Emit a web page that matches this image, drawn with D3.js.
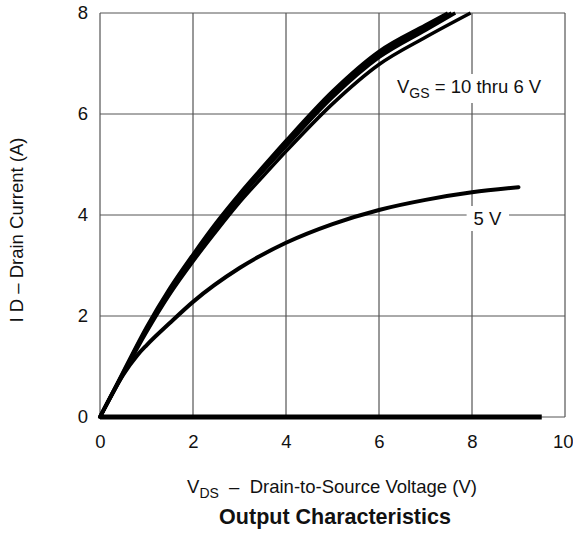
<!DOCTYPE html>
<html>
<head>
<meta charset="utf-8">
<script src="https://cdn.jsdelivr.net/npm/d3@7"></script>
<style>
  body { margin: 0; background: #fff; }
  text { font-family: "Liberation Sans", Arial, Helvetica, sans-serif; fill: #111; }
</style>
</head>
<body>
<script>
// drain current (A) vs drain-to-source voltage (V), one array per gate voltage
var vds10 = [0, 0.5, 1, 1.5, 2, 2.5, 3, 3.5, 4, 5, 6, 7, 7.48];
var id10  = [0, 0.9, 1.78, 2.55, 3.22, 3.85, 4.42, 4.95, 5.47, 6.45, 7.24, 7.76, 8.0];
var vds8  = [0, 0.5, 1, 1.5, 2, 2.5, 3, 3.5, 4, 5, 6, 7, 7.56];
var id8   = [0, 0.88, 1.75, 2.51, 3.18, 3.8, 4.37, 4.9, 5.41, 6.39, 7.18, 7.71, 8.0];
var vds7  = [0, 0.5, 1, 1.5, 2, 2.5, 3, 3.5, 4, 5, 6, 7, 7.64];
var id7   = [0, 0.87, 1.72, 2.48, 3.14, 3.76, 4.33, 4.86, 5.36, 6.33, 7.12, 7.66, 8.0];
var vds6  = [0, 0.5, 1, 1.5, 2, 2.5, 3, 3.5, 4, 5, 6, 7, 7.97];
var id6   = [0, 0.85, 1.68, 2.43, 3.08, 3.68, 4.25, 4.76, 5.26, 6.2, 6.98, 7.52, 8.0];
var vds5  = [0, 0.5, 0.8, 1, 1.5, 2, 3, 4, 5, 6, 7, 8, 9];
var id5   = [0, 0.84, 1.22, 1.42, 1.86, 2.28, 2.95, 3.45, 3.82, 4.1, 4.3, 4.45, 4.55];
var vds4  = [0, 9.5];
var id4   = [0, 0];

var xTicks = [0, 2, 4, 6, 8, 10];
var yTicks = [0, 2, 4, 6, 8];

var W = 573, H = 533;
var margin = { top: 13, right: 8, bottom: 116, left: 100 },
  width = W - margin.left - margin.right,
  height = H - margin.top - margin.bottom;

var svg = d3.select("body").append("svg").attr("width", W).attr("height", H);
var g = svg.append("g").attr("transform", `translate(${margin.left},${margin.top})`);

var x = d3.scaleLinear().domain([0, 10]).range([0, width]);
var y = d3.scaleLinear().domain([0, 8]).range([height, 0]);

// grid
g.selectAll(".vgrid").data(xTicks).enter().append("line")
  .attr("x1", d => x(d)).attr("x2", d => x(d))
  .attr("y1", 0).attr("y2", height)
  .attr("stroke", "#333").attr("stroke-width", 1);
g.selectAll(".hgrid").data(yTicks).enter().append("line")
  .attr("x1", 0).attr("x2", width)
  .attr("y1", d => y(d)).attr("y2", d => y(d))
  .attr("stroke", "#555").attr("stroke-width", 1);

// axes (labels only)
var xAxis = g.append("g").attr("transform", `translate(0,${height})`)
  .call(d3.axisBottom(x).tickValues(xTicks).tickSize(0).tickPadding(18));
var yAxis = g.append("g")
  .call(d3.axisLeft(y).tickValues(yTicks).tickSize(0).tickPadding(12));
[xAxis, yAxis].forEach(function (a) {
  a.select(".domain").remove();
  a.selectAll("text").style("font-size", "18.5px").style("font-family", "'Liberation Sans', Arial, sans-serif").attr("fill", "#111");
});
// last x label sits against the right edge, like the original
xAxis.selectAll(".tick").filter(d => d === 10).select("text")
  .attr("text-anchor", "end").attr("x", margin.right);

var line = d3.line()
  .x(d => x(d[0]))
  .y(d => y(d[1]))
  .curve(d3.curveMonotoneX);

function zip(a, b) { return a.map((v, i) => [v, b[i]]); }

var curves = [
  { data: zip(vds4, id4), w: 5, cap: "butt" },
  { data: zip(vds5, id5), w: 4, cap: "round" },
  { data: zip(vds6, id6), w: 3.5, cap: "butt" },
  { data: zip(vds7, id7), w: 3.5, cap: "butt" },
  { data: zip(vds8, id8), w: 3.5, cap: "butt" },
  { data: zip(vds10, id10), w: 3.5, cap: "butt" }
];

g.selectAll(".curve").data(curves).enter().append("path")
  .attr("class", "curve")
  .attr("d", d => line(d.data))
  .attr("fill", "none")
  .attr("stroke", "#000")
  .attr("stroke-width", d => d.w)
  .attr("stroke-linecap", d => d.cap)
  .attr("stroke-linejoin", "round");

// curve labels with white boxes
function label(parent, build, cx, cy, anchor) {
  var lg = parent.append("g");
  var rect = lg.append("rect").attr("fill", "#fff");
  var t = lg.append("text").attr("x", cx).attr("y", cy)
    .attr("text-anchor", anchor).style("font-size", "18.5px");
  build(t);
  var b = t.node().getBBox();
  rect.attr("x", b.x - 7).attr("y", b.y - 2).attr("width", b.width + 14).attr("height", b.height + 4);
}

label(g, function (t) {
  t.append("tspan").text("V");
  t.append("tspan").attr("dy", 5).style("font-size", "14px").text("GS");
  t.append("tspan").attr("dy", -5).text(" = 10 thru 6 V");
}, 297, 80, "start");

label(g, function (t) {
  t.text("5 V");
}, 387.5, 212, "middle");

// axis titles
svg.append("text")
  .attr("transform", `translate(23,${230}) rotate(-90)`)
  .attr("text-anchor", "middle")
  .style("font-size", "18.5px")
  .text("I D \u2013 Drain Current (A)");

var xt = svg.append("text")
  .attr("x", 332).attr("y", 493)
  .attr("text-anchor", "middle")
  .style("font-size", "18.5px")
  .attr("xml:space", "preserve");
xt.append("tspan").text("V");
xt.append("tspan").attr("dy", 5).style("font-size", "14px").text("DS");
xt.append("tspan").attr("dy", -5).text("  \u2013  Drain-to-Source Voltage (V)");

svg.append("text")
  .attr("x", 335).attr("y", 524)
  .attr("text-anchor", "middle")
  .style("font-size", "21.5px")
  .style("font-weight", "bold")
  .text("Output Characteristics");
</script>
</body>
</html>
